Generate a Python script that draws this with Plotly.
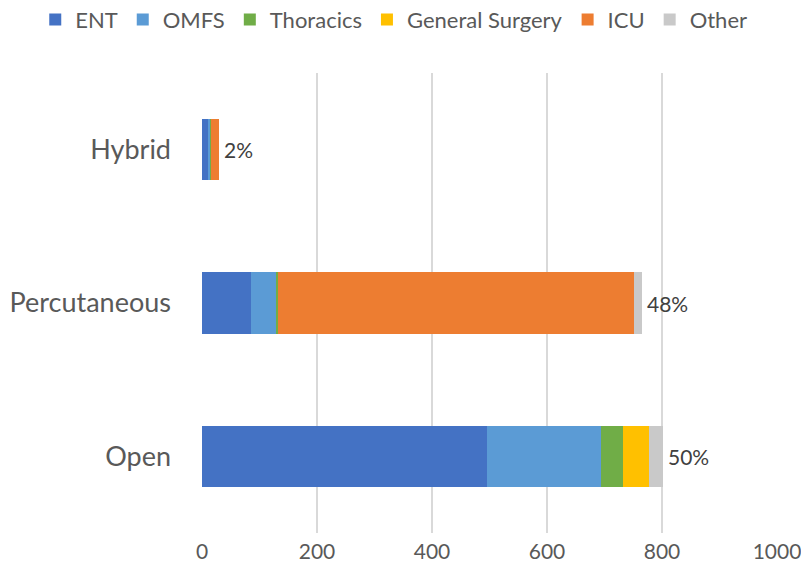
import plotly.graph_objects as go

categories = ["Open", "Percutaneous", "Hybrid"]
series_names = ["ENT", "OMFS", "Thoracics", "General Surgery", "ICU", "Other"]
ent = [496, 85, 12]
omfs = [198, 43, 2]
thoracics = [39, 4, 1]
general_surgery = [45, 0, 0]
icu = [0, 619, 14]
other = [23, 14, 0]
pct_labels = ["50%", "48%", "2%"]
x_ticks = [0, 200, 400, 600, 800, 1000]

colors = ["#4472C4", "#5B9BD5", "#70AD47", "#FFC000", "#ED7D31", "#C9C9C9"]
series_values = [ent, omfs, thoracics, general_surgery, icu, other]

fig = go.Figure()
for name, vals, col in zip(series_names, series_values, colors):
    fig.add_trace(go.Bar(y=categories, x=vals, name=name, orientation="h",
                         marker=dict(color=col, line=dict(width=0))))

totals = [sum(v[i] for v in series_values) for i in range(len(categories))]
for cat, tot, lab in zip(categories, totals, pct_labels):
    fig.add_annotation(x=tot, y=cat, text=lab, showarrow=False, xanchor="left",
                       xshift=3, font=dict(size=21, color="#404040"))

fig.update_layout(
    width=809, height=579,
    barmode="stack", bargap=0.6,
    plot_bgcolor="white", paper_bgcolor="white",
    margin=dict(l=194, r=40, t=65, b=54, autoexpand=False),
    font=dict(family="Lato, sans-serif", color="#595959"),
    legend=dict(orientation="h", x=-0.29, xanchor="left", xref="paper",
                y=1.07, yanchor="bottom", yref="paper",
                font=dict(size=22, color="#595959"),
                traceorder="normal", tracegroupgap=0, itemwidth=30),
    xaxis=dict(range=[0, 1000], tickvals=x_ticks, showgrid=True, gridcolor="#D9D9D9",
               gridwidth=1.5, zeroline=False, showline=False, ticks="", automargin=False,
               tickfont=dict(size=21, color="#595959"), ticklabelstandoff=4),
    yaxis=dict(showgrid=False, showline=False, ticks="", ticklabelstandoff=30, automargin=False,
               tickfont=dict(size=27, color="#595959")),
)
fig.write_html("out.html")
